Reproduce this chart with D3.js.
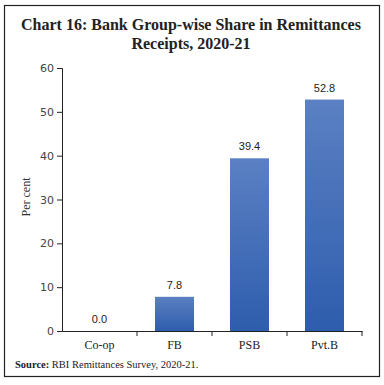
<!DOCTYPE html>
<html><head><meta charset="utf-8">
<script src="https://cdn.jsdelivr.net/npm/d3@7"></script>
<style>body{margin:0;background:#fff}svg{display:block}</style>
</head><body>
<script>
const categories = ["Co-op", "FB", "PSB", "Pvt.B"];
const values = [0.0, 7.8, 39.4, 52.8];
const yTicks = [0, 10, 20, 30, 40, 50, 60];
const titleLines = ["Chart 16: Bank Group-wise Share in Remittances", "Receipts, 2020-21"];
const yLabel = "Per cent";

const W = 384, H = 385;
const svg = d3.select("body").append("svg").attr("width", W).attr("height", H);

const defs = svg.append("defs");
const grad = defs.append("linearGradient").attr("id", "bg").attr("x1", 0).attr("y1", 0).attr("x2", 0).attr("y2", 1);
grad.append("stop").attr("offset", "0%").attr("stop-color", "#5b80c3");
grad.append("stop").attr("offset", "100%").attr("stop-color", "#2e5dad");

svg.append("rect").attr("x", 4.5).attr("y", 5.5).attr("width", 375).attr("height", 371)
  .attr("fill", "none").attr("stroke", "#222").attr("stroke-width", 1.2);

const title = svg.append("text").attr("text-anchor", "middle")
  .attr("font-family", "Liberation Serif, serif").attr("font-weight", "bold").attr("font-size", 16).attr("fill", "#222");
titleLines.forEach((t, i) => title.append("tspan").attr("x", 191).attr("y", 30 + i * 18.5).text(t));

const y = d3.scaleLinear().domain([0, 60]).range([331, 68]);
const xBand = d3.scaleBand().domain(categories).range([62, 362]);

// bars
svg.selectAll("rect.bar").data(values).enter().append("rect")
  .attr("class", "bar")
  .attr("x", (d, i) => xBand(categories[i]) + xBand.bandwidth() / 2 - 19.5)
  .attr("width", 39)
  .attr("y", d => y(d))
  .attr("height", d => y(0) - y(d))
  .attr("fill", "url(#bg)");

// value labels
svg.selectAll("text.val").data(values).enter().append("text")
  .attr("class", "val")
  .attr("x", (d, i) => xBand(categories[i]) + xBand.bandwidth() / 2)
  .attr("y", d => y(d) - 8)
  .attr("text-anchor", "middle")
  .attr("font-family", "Liberation Sans, sans-serif").attr("font-size", 11).attr("fill", "#222")
  .text(d => d.toFixed(1));

// y axis
const yAxis = svg.append("g").attr("transform", "translate(62,0)")
  .call(d3.axisLeft(y).tickValues(yTicks).tickSize(5).tickPadding(3));
yAxis.select(".domain").attr("stroke", "#222");
yAxis.selectAll(".tick line").attr("stroke", "#222");
yAxis.selectAll(".tick text").attr("font-family", "DejaVu Sans, sans-serif").attr("font-size", 11).attr("fill", "#444");

// x axis
const xAxis = svg.append("g").attr("transform", "translate(0,331)")
  .call(d3.axisBottom(xBand).tickSize(0).tickPadding(9).tickSizeOuter(0));
xAxis.select(".domain").attr("stroke", "#222");
xAxis.selectAll(".tick text").attr("font-family", "Liberation Serif, serif").attr("font-size", 12).attr("fill", "#222");
// category boundary ticks
svg.append("g").selectAll("line").data(categories).enter().append("line")
  .attr("x1", d => xBand(d) + xBand.bandwidth()).attr("x2", d => xBand(d) + xBand.bandwidth())
  .attr("y1", 331).attr("y2", 336).attr("stroke", "#222");

// y label
svg.append("text").attr("transform", "translate(30,197) rotate(-90)")
  .attr("text-anchor", "middle").attr("font-family", "Liberation Serif, serif").attr("font-size", 12).attr("fill", "#333")
  .text(yLabel);

// source
const src = svg.append("text").attr("x", 15).attr("y", 368)
  .attr("font-family", "Liberation Serif, serif").attr("font-size", 10.5).attr("fill", "#222");
src.append("tspan").attr("font-weight", "bold").text("Source:");
src.append("tspan").text(" RBI Remittances Survey, 2020-21.");
</script>
</body></html>
